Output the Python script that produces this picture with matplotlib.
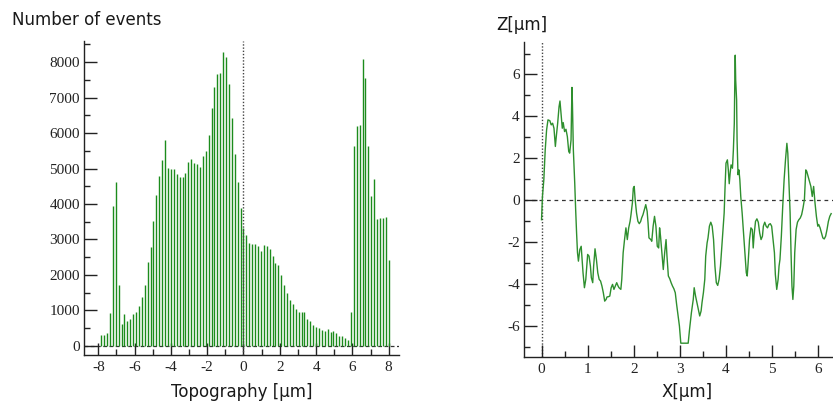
import numpy as np
import matplotlib
matplotlib.use("Agg")
import matplotlib.pyplot as plt
from matplotlib.ticker import MultipleLocator

plt.rcParams['font.family'] = 'Liberation Serif'
plt.rcParams['axes.unicode_minus'] = False

# height histogram: 100 bins of 0.16 um between -8 and 8, bar drawn at the bin's upper edge
bin_edges = np.linspace(-8, 8, 101)
bar_counts = [300, 300, 356, 938, 3940, 4625, 1707, 610, 910, 694,
              750, 910, 966, 1126, 1388, 1707, 2364, 2777, 3518, 4240,
              4784, 5253, 5816, 5019, 4991, 4991, 4850, 4756, 4756, 4878,
              5188, 5281, 5160, 5131, 5038, 5347, 5488, 5957, 6707, 7298,
              7674, 7692, 8283, 8143, 7392, 6426, 5413, 4615, 3874, 3330,
              3114, 2908, 2861, 2861, 2814, 2664, 2852, 2814, 2739, 2533,
              2327, 2289, 2008, 1717, 1482, 1295, 1173, 1051, 957, 957,
              957, 769, 704, 600, 544, 516, 450, 432, 469, 403,
              432, 375, 281, 281, 216, 159, 957, 5629, 6191, 6238,
              8096, 7552, 5647, 4221, 4710, 3584, 3612, 3612, 3640, 2420]

# line profile Z(X)
prof_x = [0.00, 0.02, 0.05, 0.08, 0.11, 0.14, 0.18, 0.21, 0.24, 0.27,
          0.30, 0.32, 0.35, 0.38, 0.40, 0.42, 0.45, 0.47, 0.50, 0.53,
          0.56, 0.59, 0.61, 0.64, 0.66, 0.67, 0.69, 0.72, 0.74, 0.76,
          0.78, 0.80, 0.83, 0.86, 0.88, 0.90, 0.93, 0.96, 0.98, 1.00,
          1.03, 1.06, 1.08, 1.11, 1.13, 1.16, 1.19, 1.22, 1.25, 1.28,
          1.31, 1.34, 1.37, 1.40, 1.42, 1.45, 1.48, 1.51, 1.54, 1.57,
          1.60, 1.63, 1.66, 1.68, 1.72, 1.74, 1.77, 1.80, 1.83, 1.86,
          1.89, 1.92, 1.94, 1.97, 1.99, 2.01, 2.03, 2.06, 2.09, 2.12,
          2.15, 2.17, 2.20, 2.23, 2.26, 2.29, 2.31, 2.33, 2.37, 2.39,
          2.42, 2.45, 2.48, 2.51, 2.54, 2.56, 2.58, 2.61, 2.64, 2.67,
          2.70, 2.72, 2.75, 2.78, 2.81, 2.84, 2.87, 2.90, 2.93, 2.96,
          2.99, 3.02, 3.07, 3.13, 3.18, 3.21, 3.25, 3.29, 3.31, 3.34,
          3.37, 3.40, 3.43, 3.46, 3.48, 3.51, 3.54, 3.56, 3.59, 3.61,
          3.64, 3.67, 3.70, 3.73, 3.76, 3.79, 3.82, 3.85, 3.88, 3.90,
          3.93, 3.96, 3.98, 4.00, 4.03, 4.05, 4.07, 4.09, 4.11, 4.14,
          4.16, 4.18, 4.19, 4.20, 4.21, 4.23, 4.24, 4.26, 4.28, 4.30,
          4.32, 4.35, 4.38, 4.41, 4.44, 4.46, 4.48, 4.51, 4.54, 4.57,
          4.59, 4.61, 4.64, 4.67, 4.70, 4.73, 4.76, 4.79, 4.81, 4.84,
          4.87, 4.90, 4.93, 4.96, 4.99, 5.02, 5.05, 5.07, 5.10, 5.13,
          5.15, 5.17, 5.20, 5.23, 5.26, 5.29, 5.32, 5.34, 5.36, 5.39,
          5.41, 5.43, 5.45, 5.47, 5.49, 5.52, 5.55, 5.58, 5.61, 5.64,
          5.67, 5.70, 5.73, 5.75, 5.78, 5.81, 5.84, 5.87, 5.90, 5.93,
          5.96, 5.99, 6.01, 6.04, 6.07, 6.10, 6.13, 6.16, 6.19, 6.22,
          6.25, 6.28]
prof_z = [-0.94, 0.17, 0.97, 2.40, 3.35, 3.83, 3.79, 3.59, 3.67, 3.43,
          2.56, 3.03, 3.67, 4.46, 4.73, 4.22, 3.43, 3.70, 3.27, 3.38,
          3.03, 2.32, 2.24, 2.87, 5.38, 4.62, 2.40, 0.81, -0.46, -1.57,
          -2.52, -2.92, -2.37, -2.21, -2.84, -3.48, -4.19, -3.79, -3.16, -2.60,
          -2.68, -3.16, -3.71, -3.95, -3.16, -2.33, -2.84, -3.48, -3.79, -3.87,
          -4.11, -4.43, -4.83, -4.75, -4.63, -4.62, -4.59, -4.19, -4.03, -4.27,
          -4.11, -3.95, -4.11, -4.19, -4.27, -3.79, -2.52, -1.89, -1.33, -1.89,
          -1.33, -1.02, -0.70, -0.14, 0.57, 0.65, 0.02, -0.62, -1.02, -1.13,
          -1.02, -0.86, -0.70, -0.46, -0.22, -0.54, -1.10, -1.81, -1.89, -1.97,
          -1.25, -0.78, -1.25, -2.21, -2.29, -1.33, -1.73, -2.52, -3.32, -2.52,
          -1.89, -2.68, -3.63, -3.76, -3.95, -4.11, -4.24, -4.43, -5.00, -5.50,
          -6.02, -6.84, -6.84, -6.84, -6.84, -6.17, -5.38, -4.75, -4.19, -4.59,
          -4.90, -5.22, -5.54, -5.30, -4.90, -4.43, -3.79, -2.68, -2.05, -1.81,
          -1.25, -1.06, -1.25, -1.89, -3.16, -3.95, -4.08, -3.79, -3.16, -2.52,
          -1.57, -0.62, 0.65, 1.76, 1.92, 1.44, 0.78, 1.29, 1.68, 1.52,
          2.40, 3.67, 5.57, 6.92, 5.73, 4.78, 2.87, 1.21, 1.44, 0.97,
          0.17, -0.62, -1.57, -2.52, -3.48, -3.63, -3.00, -1.89, -1.33, -1.41,
          -2.29, -1.65, -1.02, -0.90, -1.06, -1.57, -1.89, -1.73, -1.25, -1.06,
          -1.25, -1.33, -1.17, -1.13, -1.25, -1.89, -2.52, -3.56, -4.27, -3.79,
          -3.16, -2.84, -1.73, -0.30, 0.97, 1.92, 2.71, 2.24, 1.13, -0.62,
          -2.52, -4.11, -4.75, -4.11, -2.52, -1.41, -1.06, -0.94, -0.86, -0.70,
          -0.38, 0.02, 1.44, 1.37, 1.13, 0.89, 0.65, 0.17, 0.65, -0.14,
          -0.78, -1.25, -1.17, -1.33, -1.57, -1.81, -1.86, -1.73, -1.41, -1.02,
          -0.78, -0.65]

green = '#1c8c1c'
axis_col = '#222222'
label_font = dict(family='DejaVu Sans', fontsize=12, color='#1a1a1a')

fig = plt.figure(figsize=(8.33, 4.03), dpi=100)
W, H = 833.0, 403.0
ax1 = fig.add_axes([84 / W, 1 - 355 / H, (399 - 84) / W, (355 - 41) / H])
ax2 = fig.add_axes([524 / W, 1 - 357 / H, (833 - 524) / W, (357 - 42) / H])

# histogram drawn as thin vertical lines
ax1.vlines(bin_edges[1:], 0, bar_counts, color=green, linewidth=1.0)
ax1.axhline(0, color='#333333', linestyle=(0, (3, 2)), linewidth=0.9, zorder=0)
ax1.axvline(0, color='#444444', linestyle=(0, (1, 1.3)), linewidth=1.0, zorder=3)
ax1.set_xlim(-8.79, 8.57)
ax1.set_ylim(-254, 8592)
ax1.xaxis.set_major_locator(MultipleLocator(2))
ax1.xaxis.set_minor_locator(MultipleLocator(1))
ax1.yaxis.set_major_locator(MultipleLocator(1000))
ax1.yaxis.set_minor_locator(MultipleLocator(500))

# line profile
ax2.plot(prof_x, prof_z, color='#2e8f2e', linewidth=1.0)
ax2.axhline(0, color='#333333', linestyle=(0, (3, 3)), linewidth=0.9, zorder=0)
ax2.axvline(0, color='#444444', linestyle=(0, (1, 1.3)), linewidth=1.0, zorder=0)
ax2.set_xlim(-0.38, 6.32)
ax2.set_ylim(-7.5, 7.55)
ax2.xaxis.set_major_locator(MultipleLocator(1))
ax2.xaxis.set_minor_locator(MultipleLocator(0.5))
ax2.yaxis.set_major_locator(MultipleLocator(2))
ax2.yaxis.set_minor_locator(MultipleLocator(1))

for ax in (ax1, ax2):
    ax.spines['top'].set_visible(False)
    ax.spines['right'].set_visible(False)
    for s in ('left', 'bottom'):
        ax.spines[s].set_color(axis_col)
        ax.spines[s].set_linewidth(1.0)
    ax.tick_params(which='major', direction='in', length=9, width=1.0,
                   color=axis_col, labelsize=11, labelcolor='#222222', pad=3)
    ax.tick_params(which='minor', direction='in', length=4, width=1.0, color=axis_col)
    ax.tick_params(axis='x', which='major', pad=4)

fig.text(12 / W, 1 - 20 / H, 'Number of events', ha='left', va='center', **label_font)
fig.text(242 / W, 1 - 392 / H, 'Topography [µm]', ha='center', va='center', **label_font)
fig.text(496 / W, 1 - 25 / H, 'Z[µm]', ha='left', va='center', **label_font)
fig.text(687 / W, 1 - 392 / H, 'X[µm]', ha='center', va='center', **label_font)

fig.savefig('out.png', dpi=100)
